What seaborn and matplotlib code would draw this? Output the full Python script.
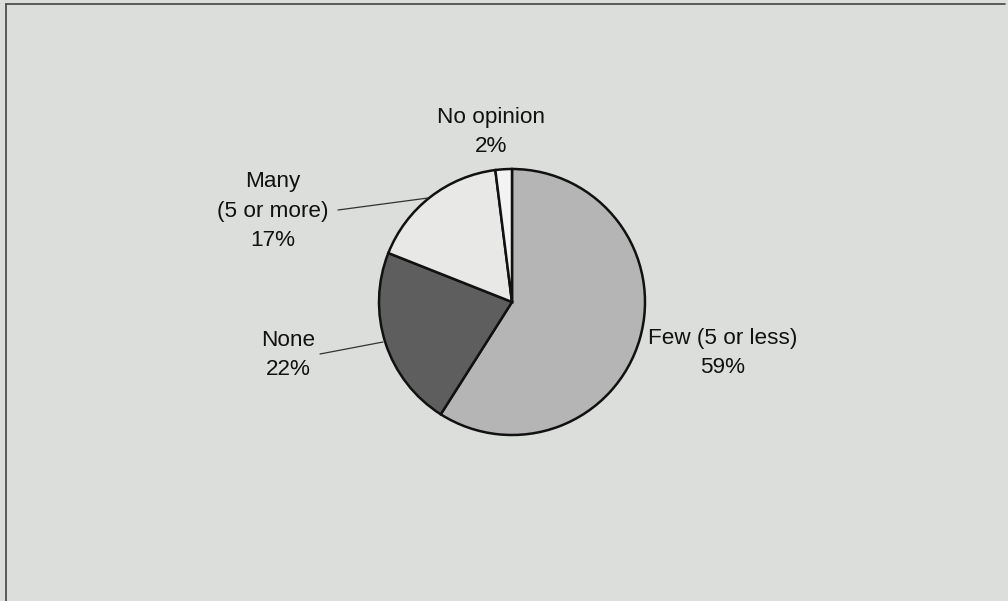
import numpy as np
import seaborn as sns
import matplotlib.pyplot as plt

categories = ['Few (5 or less)', 'None', 'Many\n(5 or more)', 'No opinion']
shares = [59, 22, 17, 2]
colors = ['#b5b5b5', '#5e5e5e', '#e8e8e6', '#f3f3f3']

sns.set_theme(style='white')
plt.rcParams['font.family'] = ['Liberation Sans', 'DejaVu Sans']

bg = '#dcdedb'
W, H = 1008, 601
fig = plt.figure(figsize=(W / 100, H / 100), dpi=100, facecolor=bg)
ax = fig.add_axes([0, 0, 1, 1])
ax.set_facecolor(bg)

cx, cy, r = 512, H - 302, 133
wedges, _ = ax.pie(shares, colors=colors, startangle=90, counterclock=False,
                   center=(cx, cy), radius=r, frame=True,
                   wedgeprops=dict(edgecolor='#111111', linewidth=1.8))
ax.set_xlim(0, W)
ax.set_ylim(0, H)
ax.set_aspect('equal')
ax.axis('off')

# label positions (pixel coords, y from top) and optional leader lines
label_pos = [(723, 353), (288, 355), (273, 211), (491, 132)]
leaders = [None, ((320, 354), (383, 342)), ((338, 210), (428, 198)), None]

for cat, val, (lx, ly), ld in zip(categories, shares, label_pos, leaders):
    ax.text(lx, H - ly, f'{cat}\n{val}%', ha='center', va='center',
            fontsize=16.2, color='#111111', linespacing=1.55)
    if ld is not None:
        (x0, y0), (x1, y1) = ld
        ax.plot([x0, x1], [H - y0, H - y1], color='#333333', lw=0.9)

# frame lines on left and top
ax.plot([6, 6], [0, H - 4], color='#444444', lw=1.2)
ax.plot([6, W - 3], [H - 4, H - 4], color='#444444', lw=1.2)

fig.savefig('out.png', dpi=100, facecolor=bg)
